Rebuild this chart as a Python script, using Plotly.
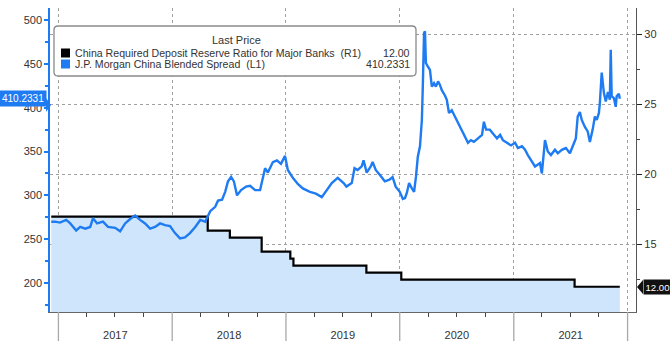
import plotly.graph_objects as go

# ---------------- data ----------------
spread_dates = [
    "2016-12-09", "2016-12-21", "2017-01-06", "2017-01-26", "2017-02-08", "2017-02-27", "2017-03-12",
    "2017-03-28", "2017-04-13", "2017-04-22", "2017-05-05", "2017-05-24", "2017-06-09", "2017-07-02",
    "2017-07-18", "2017-08-03", "2017-08-19", "2017-09-04", "2017-09-20", "2017-10-06", "2017-10-22",
    "2017-11-07", "2017-11-23", "2017-12-09", "2017-12-25",
    "2018-01-10", "2018-01-26", "2018-02-11", "2018-02-27", "2018-03-16", "2018-04-01", "2018-04-17",
    "2018-05-03", "2018-05-19", "2018-05-28", "2018-06-10", "2018-06-20", "2018-06-29", "2018-07-09",
    "2018-07-18", "2018-07-28", "2018-08-10", "2018-08-26", "2018-09-08", "2018-09-24", "2018-10-10",
    "2018-10-26", "2018-11-04", "2018-11-20", "2018-12-03", "2018-12-16", "2018-12-29",
    "2019-01-07", "2019-01-23", "2019-02-08", "2019-02-24", "2019-03-19", "2019-04-07", "2019-04-26",
    "2019-05-09", "2019-05-22", "2019-05-28", "2019-06-16", "2019-07-05", "2019-07-14", "2019-07-31",
    "2019-08-09", "2019-08-19", "2019-09-01", "2019-09-07", "2019-09-17", "2019-09-30", "2019-10-06",
    "2019-10-16", "2019-11-01", "2019-11-14", "2019-11-29", "2019-12-09", "2019-12-19",
    "2020-01-01", "2020-01-11", "2020-01-18", "2020-01-24", "2020-01-31", "2020-02-09", "2020-02-16",
    "2020-02-22", "2020-02-28", "2020-03-06", "2020-03-09", "2020-03-12", "2020-03-15", "2020-03-19",
    "2020-03-22", "2020-03-25", "2020-03-31", "2020-04-07", "2020-04-13", "2020-04-20", "2020-04-26",
    "2020-05-03", "2020-05-09", "2020-05-15", "2020-05-25", "2020-05-31", "2020-06-07", "2020-06-16",
    "2020-06-26", "2020-07-06", "2020-07-19", "2020-07-28", "2020-08-07", "2020-08-16", "2020-08-26",
    "2020-09-08", "2020-09-21", "2020-09-27", "2020-10-04", "2020-10-16", "2020-10-29", "2020-11-08",
    "2020-11-18", "2020-11-27", "2020-12-10", "2020-12-23",
    "2021-01-05", "2021-01-14", "2021-01-27", "2021-02-06", "2021-02-15", "2021-02-25", "2021-03-10",
    "2021-03-26", "2021-04-01", "2021-04-11", "2021-04-20", "2021-04-30", "2021-05-13", "2021-05-22",
    "2021-06-04", "2021-06-17", "2021-06-30", "2021-07-09", "2021-07-19", "2021-07-25", "2021-08-01",
    "2021-08-07", "2021-08-17", "2021-08-26", "2021-09-02", "2021-09-11", "2021-09-18", "2021-09-24",
    "2021-10-01", "2021-10-04", "2021-10-10", "2021-10-17", "2021-10-23", "2021-10-30", "2021-11-05",
    "2021-11-08", "2021-11-11", "2021-11-18", "2021-11-24", "2021-11-27", "2021-12-04", "2021-12-07",
]
spread_values = [
    270, 270, 269, 272, 268, 260, 264, 262, 264, 274, 268, 270, 264, 263, 259, 268, 273, 277, 272, 268,
    262, 264, 268, 266, 265,
    257, 251, 252, 257, 264, 272, 270, 282, 287, 294, 295, 304, 316, 321, 316, 300, 306, 310, 311, 306,
    306, 331, 326, 338, 340, 336, 345,
    329, 320, 313, 308, 304, 302, 298, 304, 310, 314, 320, 314, 310, 314, 331, 329, 333, 340, 326, 333,
    338, 329, 322, 316, 318, 321, 310,
    304, 296, 297, 303, 314, 308, 304, 321, 344, 356, 375, 386, 424, 485, 487, 451, 447, 443, 424, 428,
    424, 430, 426, 420, 414, 409, 394, 397, 390, 383, 375, 367, 360, 363, 361, 365, 369, 384, 375, 375,
    369, 365, 369, 363, 360, 357,
    360, 354, 356, 352, 346, 340, 333, 337, 325, 363, 350, 346, 352, 348, 352, 354, 348, 356, 365, 390,
    395, 386, 378, 373, 361, 375, 390, 386, 394, 405, 440, 417, 407, 418, 409, 466, 413, 411, 401, 413,
    416, 410.2331,
]

rrr_dates = ["2016-12-09", "2018-04-25", "2018-07-05", "2018-10-15", "2019-01-15", "2019-01-25",
             "2019-09-16", "2020-01-06", "2021-07-15", "2021-12-07"]
rrr_values = [17.0, 16.0, 15.5, 14.5, 14.0, 13.5, 13.0, 12.5, 12.0, 12.0]

year_bounds = ["2017-01-01", "2018-01-01", "2019-01-01", "2020-01-01", "2021-01-01", "2022-01-01"]

rrr_name = "China Required Deposit Reserve Ratio for Major Banks  (R1)"
spread_name = "J.P. Morgan China Blended Spread  (L1)"
rrr_last = "12.00"
spread_last = "410.2331"

# ---------------- layout helpers ----------------
W, H = 670, 350
L, R, T, B = 50, 636, 8, 312


def px(x):
    return (x - L) / (R - L)


def py(y):
    return (B - y) / (B - T)


BLUE = "#1f7bf2"
FILL = "#cfe5fb"
GRID = "#a0a0a0"
TXT = "#333333"
FONT = "Liberation Sans"

fig = go.Figure()

# fill under RRR (primary axis = right)
fig.add_trace(go.Scatter(x=rrr_dates, y=rrr_values, mode="lines", line=dict(width=0, shape="hv"),
                         fill="tozeroy", fillcolor=FILL, hoverinfo="skip", yaxis="y", showlegend=False))
fig.add_trace(go.Scatter(x=rrr_dates, y=rrr_values, mode="lines", line=dict(color="#000000", width=2.2, shape="hv"),
                         name=rrr_name, yaxis="y", showlegend=False))
fig.add_trace(go.Scatter(x=spread_dates, y=spread_values, mode="lines", line=dict(color=BLUE, width=2.4),
                         name=spread_name, yaxis="y2", showlegend=False))

shapes = []
# long year-boundary ticks below axis
for d in year_bounds:
    shapes.append(dict(type="line", xref="x", yref="paper", x0=d, x1=d, y0=0, y1=py(341),
                       line=dict(color="#a8a8a8", width=1.3)))


# legend box (rounded)
def rrect(x0, y0, x1, y1, r):
    a, b, c, d = px(x0), py(y0), px(x1), py(y1)
    rx, ry = r / (R - L), r / (B - T)
    return (f"M{a+rx},{b} L{c-rx},{b} Q{c},{b} {c},{b-ry} L{c},{d+ry} Q{c},{d} {c-rx},{d} "
            f"L{a+rx},{d} Q{a},{d} {a},{d+ry} L{a},{b-ry} Q{a},{b} {a+rx},{b} Z")


shapes.append(dict(type="path", xref="paper", yref="paper", path=rrect(54, 26, 416, 76, 4),
                   fillcolor="white", line=dict(color="#8a8a8a", width=1.3), layer="above"))
# legend squares
for yc, col in [(53, "#000000"), (64, BLUE)]:
    shapes.append(dict(type="rect", xref="paper", yref="paper", x0=px(61), x1=px(70), y0=py(yc - 4.5),
                       y1=py(yc + 4.5), fillcolor=col, line=dict(width=0), layer="above"))

# value tags pointers
shapes.append(dict(type="path", xref="paper", yref="paper",
                   path=f"M{px(46)},{py(98)} L{px(51)},{py(105)} L{px(46)},{py(112)} Z",
                   fillcolor=BLUE, line=dict(width=0), layer="above"))
shapes.append(dict(type="path", xref="paper", yref="paper",
                   path=f"M{px(643)},{py(280)} L{px(637)},{py(287)} L{px(643)},{py(294)} Z",
                   fillcolor="#111111", line=dict(width=0), layer="above"))

annotations = [
    dict(xref="paper", yref="paper", x=px(236), y=py(40), text="Last Price", showarrow=False,
         xanchor="center", yanchor="middle", font=dict(family=FONT, size=11, color=TXT)),
    dict(xref="paper", yref="paper", x=px(73), y=py(53), text=rrr_name, showarrow=False,
         xanchor="left", yanchor="middle", font=dict(family=FONT, size=10.6, color=TXT)),
    dict(xref="paper", yref="paper", x=px(412), y=py(53), text=rrr_last, showarrow=False,
         xanchor="right", yanchor="middle", font=dict(family=FONT, size=10.6, color=TXT)),
    dict(xref="paper", yref="paper", x=px(73), y=py(64), text=spread_name, showarrow=False,
         xanchor="left", yanchor="middle", font=dict(family=FONT, size=10.6, color=TXT)),
    dict(xref="paper", yref="paper", x=px(412), y=py(64), text=spread_last, showarrow=False,
         xanchor="right", yanchor="middle", font=dict(family=FONT, size=10.6, color=TXT)),
    dict(xref="paper", yref="y2", x=px(46.5), y=spread_values[-1], text=spread_last, showarrow=False,
         xanchor="right", yanchor="middle", bgcolor=BLUE, borderpad=2,
         font=dict(family=FONT, size=10, color="white")),
    dict(xref="paper", yref="y", x=px(642.5), y=rrr_values[-1], text=rrr_last, showarrow=False,
         xanchor="left", yanchor="middle", bgcolor="#111111", borderpad=1.5,
         font=dict(family=FONT, size=9.6, color="white")),
]

fig.update_layout(
    width=W, height=H,
    margin=dict(l=L, r=W - R, t=T, b=H - B, pad=0),
    paper_bgcolor="white", plot_bgcolor="white",
    font=dict(family=FONT, size=11, color=TXT),
    showlegend=False,
    xaxis=dict(
        type="date", range=["2016-12-05", "2022-01-28"],
        ticklabelmode="period", dtick="M12", tick0="2017-01-01", tickformat="%Y",
        ticks="outside", ticklen=0, tickcolor="#a8a8a8",
        showgrid=True, gridcolor=GRID, griddash="dot", gridwidth=1,
        showline=True, linecolor="#666666", linewidth=1.3,
        minor=dict(dtick="M3", tick0="2017-01-01", ticks="outside", ticklen=4, tickcolor="#444444",
                   showgrid=False),
        ticklabelstandoff=13,
        tickfont=dict(family=FONT, size=11, color=TXT),
        zeroline=False,
    ),
    yaxis=dict(
        side="right", range=[10.2, 31.86], tick0=0, dtick=5,
        ticks="outside", ticklen=5, tickcolor="#222222",
        showgrid=True, gridcolor=GRID, griddash="dot", gridwidth=1,
        showline=True, linecolor="#555555", linewidth=1.3,
        minor=dict(dtick=2.5, ticks="outside", ticklen=3, tickcolor="#444444", showgrid=False),
        tickfont=dict(family=FONT, size=11, color=TXT),
        zeroline=False,
    ),
    yaxis2=dict(
        side="left", overlaying="y", range=[167, 513.7], tickvals=[200, 250, 300, 350, 400, 450, 500],
        ticks="outside", ticklen=4, tickcolor=BLUE, tickwidth=1.5,
        showgrid=False, showline=True, linecolor=BLUE, linewidth=1.5,
        minor=dict(tickvals=[175, 225, 275, 325, 375, 425, 475], ticks="outside", ticklen=3, tickcolor=BLUE),
        tickfont=dict(family=FONT, size=11, color=TXT),
        zeroline=False,
    ),
    shapes=shapes,
    annotations=annotations,
)

fig.write_html("out.html")
